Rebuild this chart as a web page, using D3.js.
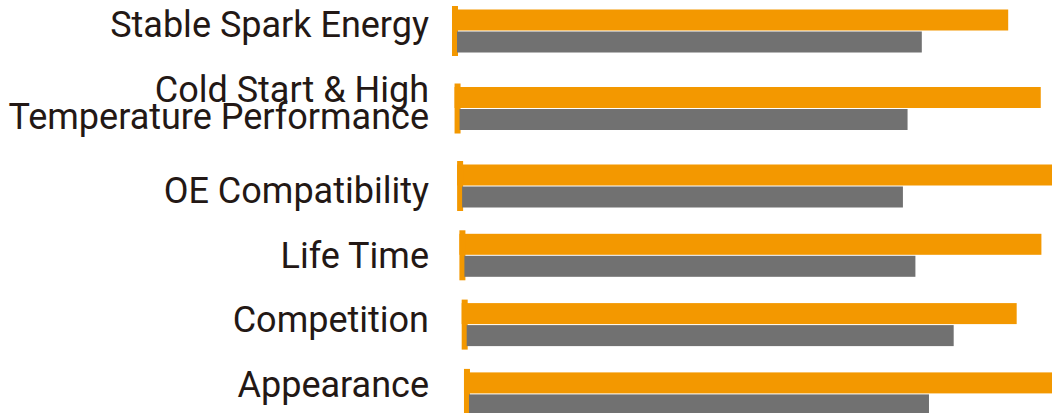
<!DOCTYPE html>
<html>
<head>
<meta charset="utf-8">
<script src="https://cdn.jsdelivr.net/npm/d3@7"></script>
<style>
  html, body { margin: 0; padding: 0; background: #fff; overflow: hidden; }
  svg { display: block; }
</style>
</head>
<body>
<svg id="chart" width="1052" height="413"></svg>
<script>
// ---- data ----
const categories = [
  ["Stable Spark Energy"],
  ["Cold Start & High", "Temperature Performance"],
  ["OE Compatibility"],
  ["Life Time"],
  ["Competition"],
  ["Appearance"]
];
const seriesA = [92.7, 97.7, 100, 97.0, 92.5, 100];   // orange
const seriesB = [78.3, 75.5, 74.3, 76.0, 82.0, 77.5]; // gray

// ---- style / layout ----
const W = 1052, H = 413;
const orange = "#F39800", gray = "#717171", textColor = "#231815";
const labelRight = 429;
const fontSize = 36, lineH = 27;
const barBaseX = 452, skew = 0.033;
const markerW = 6, markerH = 50;
const barH = 21, barGap = 1, barTop = 3.5, grayInset = 5;

const svg = d3.select("#chart");

// bar rows: heights depend on the number of label lines
const rowSingle = 69.3, rowDouble = 85.7;
const rowHeights = categories.map(c => c.length > 1 ? rowDouble : rowSingle);
const rowTops = d3.cumsum([ -3.65, ...rowHeights ]).slice(0, categories.length);
const rows = categories.map((c, i) => {
  const markerY = rowTops[i] + (rowHeights[i] - markerH) / 2;
  return { label: c, a: seriesA[i], b: seriesB[i], markerY, x0: barBaseX + skew * (markerY - 6) };
});

// text rows
const tSingle = 64.5, tDouble = 101.5;
const tHeights = categories.map(c => c.length > 1 ? tDouble : tSingle);
const tTops = d3.cumsum([37, ...tHeights]).slice(0, categories.length);

const x = d3.scaleLinear().domain([0, 100]).range([0, 600]);

const g = svg.append("g");
const row = g.selectAll("g.row").data(rows).join("g").attr("class", "row");

row.append("rect")
  .attr("x", d => d.x0)
  .attr("y", d => d.markerY + barTop)
  .attr("width", d => x(d.a))
  .attr("height", barH)
  .attr("fill", orange);

row.append("rect")
  .attr("x", d => d.x0)
  .attr("y", d => d.markerY)
  .attr("width", markerW)
  .attr("height", markerH)
  .attr("fill", orange);

row.append("rect")
  .attr("x", d => d.x0 + grayInset)
  .attr("y", d => d.markerY + barTop + barH + barGap)
  .attr("width", d => x(d.b) - grayInset)
  .attr("height", barH)
  .attr("fill", gray);

// labels
const labels = svg.append("g").selectAll("text").data(categories).join("text")
  .attr("x", labelRight)
  .attr("y", (d, i) => tTops[i])
  .attr("text-anchor", "end")
  .attr("fill", textColor)
  .style("font-family", "Roboto, 'Noto Sans', sans-serif")
  .style("font-size", fontSize + "px");

labels.selectAll("tspan").data(d => d).join("tspan")
  .attr("x", labelRight)
  .attr("dy", (d, j) => j === 0 ? 0 : lineH)
  .text(d => d);
</script>
</body>
</html>
